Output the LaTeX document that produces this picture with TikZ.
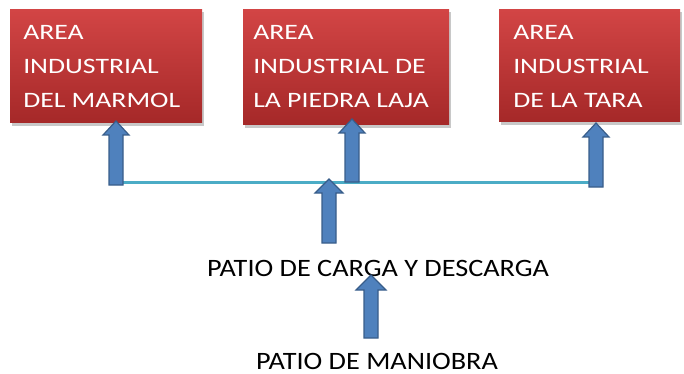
\documentclass[tikz,border=0pt]{standalone}
\usepackage{fontspec}
\setmainfont{Carlito}
\begin{document}
\begin{tikzpicture}[x=1pt,y=-1pt,
  boxtext/.style={text=white, font=\fontsize{22}{34}\selectfont, align=left, anchor=north west, inner sep=0pt, xscale=1.26, transform shape},
  label/.style={text=black, font=\fontsize{25}{30}\selectfont, inner sep=0pt, anchor=base, xscale=1.13, transform shape},
  blk/.style={fill=arrowblue, draw=arrowedge, line width=1.2pt, line join=miter},
  link/.style={draw=linkcyan, line width=3pt}]
\definecolor{arrowblue}{HTML}{4F81BD}
\definecolor{arrowedge}{HTML}{385D8A}
\definecolor{linkcyan}{HTML}{4BACC6}
\definecolor{boxtop}{HTML}{D24545}
\definecolor{boxbot}{HTML}{A52828}
\definecolor{shadowgray}{HTML}{C8C8C8}
\useasboundingbox (0,0) rectangle (684,374);
\newcommand{\blockup}[5]{% x, ybottom, ytip, head half width, head height
  \filldraw[blk] (#1-7,#2) -- (#1-7,#3+#5) -- (#1-#4,#3+#5) -- (#1,#3) -- (#1+#4,#3+#5) -- (#1+7,#3+#5) -- (#1+7,#2) -- cycle;}
% shadows
\fill[shadowgray] (12,12) rectangle (204,126);
\fill[shadowgray] (245,12) rectangle (451,128);
\fill[shadowgray] (501,12) rectangle (682,125);
% boxes
\shade[top color=boxtop, bottom color=boxbot] (10,10) rectangle (202,123);
\shade[top color=boxtop, bottom color=boxbot] (243,10) rectangle (449,125);
\shade[top color=boxtop, bottom color=boxbot] (499,10) rectangle (680,122);
\node[boxtext] (t1) at (23,25) {AREA\\INDUSTRIAL\\DEL MARMOL};
\node[boxtext] (t2) at (253,25) {AREA\\INDUSTRIAL DE\\LA PIEDRA LAJA};
\node[boxtext] (t3) at (513,25) {AREA\\INDUSTRIAL\\DE LA TARA};
% labels
\node[label] (carga) at (378,276) {PATIO DE CARGA Y DESCARGA};
\node[label] (maniobra) at (377,369) {PATIO DE MANIOBRA};
% line
\coordinate (l1) at (116,182);
\coordinate (l2) at (598,182);
\draw[link] (l1) -- (l2);
% arrows
\blockup{116}{185}{121}{13}{14}
\blockup{352}{182}{119}{13}{14}
\blockup{596}{187}{123}{13}{14}
\blockup{329}{243}{179}{14}{14}
\blockup{371}{338}{275}{15}{15}
\end{tikzpicture}
\end{document}
